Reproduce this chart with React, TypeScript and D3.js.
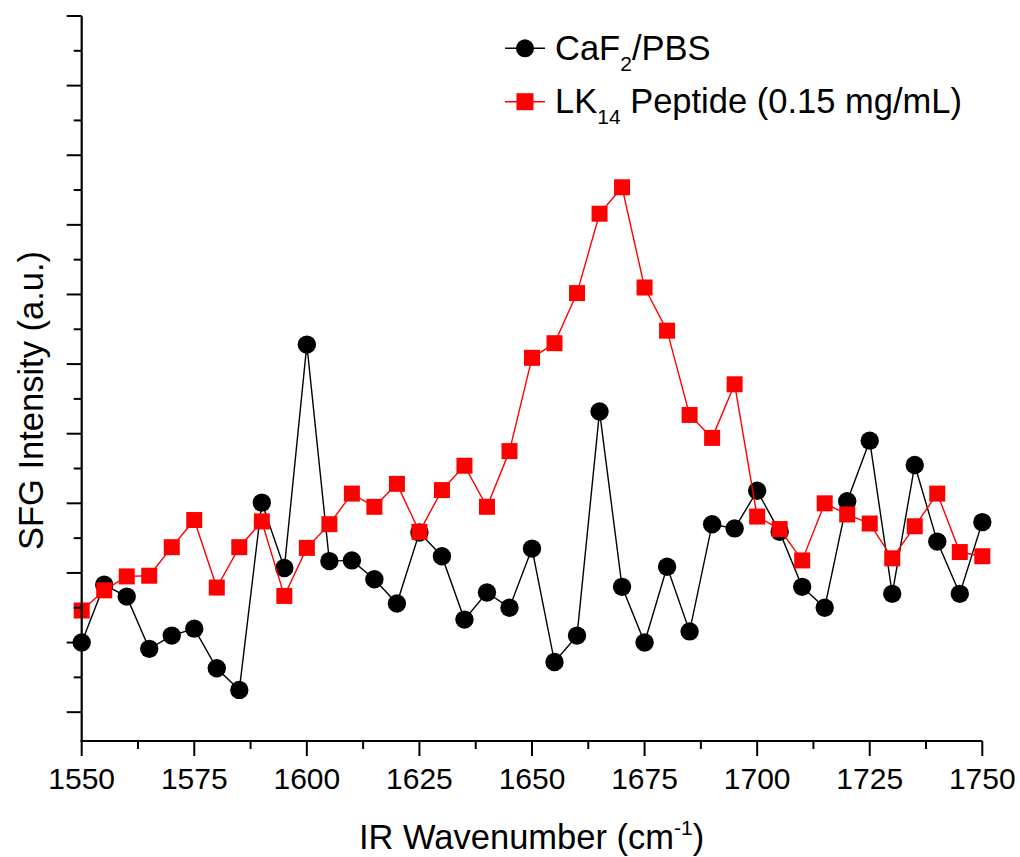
import React from 'react';
import * as d3 from 'd3';

const wavenumbers = [
  1550, 1555, 1560, 1565, 1570, 1575, 1580, 1585, 1590, 1595,
  1600, 1605, 1610, 1615, 1620, 1625, 1630, 1635, 1640, 1645,
  1650, 1655, 1660, 1665, 1670, 1675, 1680, 1685, 1690, 1695,
  1700, 1705, 1710, 1715, 1720, 1725, 1730, 1735, 1740, 1745, 1750,
];

const caf2PBS = [
  1.0, 1.83, 1.66, 0.91, 1.1, 1.2, 0.63, 0.32, 3.01, 2.07,
  5.28, 2.17, 2.18, 1.91, 1.56, 2.58, 2.24, 1.33, 1.72, 1.5,
  2.35, 0.72, 1.1, 4.32, 1.8, 1.0, 2.09, 1.16, 2.7, 2.64,
  3.18, 2.59, 1.8, 1.5, 3.03, 3.9, 1.7, 3.55, 2.45, 1.7, 2.73,
];

const lk14Peptide = [
  1.46, 1.75, 1.95, 1.96, 2.37, 2.76, 1.79, 2.37, 2.74, 1.67,
  2.36, 2.7, 3.14, 2.95, 3.28, 2.59, 3.19, 3.54, 2.95, 3.75,
  5.09, 5.3, 6.02, 7.16, 7.54, 6.1, 5.48, 4.27, 3.94, 4.71,
  2.81, 2.63, 2.18, 3.0, 2.84, 2.71, 2.21, 2.67, 3.14, 2.3, 2.24,
];

const xMajorTicks = [1550, 1575, 1600, 1625, 1650, 1675, 1700, 1725, 1750];
const xMinorTicks = [1562.5, 1587.5, 1612.5, 1637.5, 1662.5, 1687.5, 1712.5, 1737.5];
const yMajorTicks = [0, 1, 2, 3, 4, 5, 6, 7, 8, 9, 10];
const yMinorTicks = [0.5, 1.5, 2.5, 3.5, 4.5, 5.5, 6.5, 7.5, 8.5, 9.5];

const W = 1020;
const H = 857;
const left = 81.7;
const right = 982.3;
const top = 16;
const bottom = 741;

const FONT = "Arial, 'Liberation Sans', Helvetica, sans-serif";

export default function App() {
  const x = d3.scaleLinear().domain([1550, 1750]).range([left, right]);
  const y = d3.scaleLinear().domain([-0.414, 10]).range([bottom, top]);

  const line = d3
    .line<number>()
    .x((_, i) => x(wavenumbers[i]))
    .y((d) => y(d));

  const blackPath = line(caf2PBS) || '';
  const redPath = line(lk14Peptide) || '';

  const sq = 16;

  return (
    <svg
      width={W}
      height={H}
      viewBox={`0 0 ${W} ${H}`}
      style={{ position: 'absolute', left: 0, top: 0, background: '#fff' }}
      fontFamily={FONT}
    >
      <rect x={0} y={0} width={W} height={H} fill="#fff" />

      {/* data: black series */}
      <path d={blackPath} fill="none" stroke="#000" strokeWidth={1.4} />
      {caf2PBS.map((v, i) => (
        <circle key={`b${i}`} cx={x(wavenumbers[i])} cy={y(v)} r={9.2} fill="#000" />
      ))}

      {/* data: red series */}
      <path d={redPath} fill="none" stroke="#ff0000" strokeWidth={1.4} />
      {lk14Peptide.map((v, i) => (
        <rect
          key={`r${i}`}
          x={x(wavenumbers[i]) - sq / 2}
          y={y(v) - sq / 2}
          width={sq}
          height={sq}
          fill="#ff0000"
        />
      ))}

      {/* axes */}
      <line x1={left} x2={left} y1={top} y2={bottom + 1} stroke="#000" strokeWidth={2.2} />
      <line x1={left - 1} x2={right} y1={bottom} y2={bottom} stroke="#000" strokeWidth={2.2} />

      {xMajorTicks.map((t) => (
        <g key={`xm${t}`}>
          <line x1={x(t)} x2={x(t)} y1={bottom} y2={bottom + 15} stroke="#000" strokeWidth={2} />
          <text x={x(t)} y={789} fontSize={30} textAnchor="middle" fill="#000">
            {t}
          </text>
        </g>
      ))}
      {xMinorTicks.map((t) => (
        <line key={`xn${t}`} x1={x(t)} x2={x(t)} y1={bottom} y2={bottom + 8} stroke="#000" strokeWidth={2} />
      ))}
      {yMajorTicks.map((t) => (
        <line key={`ym${t}`} x1={left - 15} x2={left} y1={y(t)} y2={y(t)} stroke="#000" strokeWidth={2} />
      ))}
      {yMinorTicks.map((t) => (
        <line key={`yn${t}`} x1={left - 8} x2={left} y1={y(t)} y2={y(t)} stroke="#000" strokeWidth={2} />
      ))}

      {/* axis titles */}
      <text x={359} y={849} fontSize={34.5} fill="#000">
        IR Wavenumber (cm
        <tspan fontSize={21} dy={-14}>-1</tspan>
        <tspan dy={14}>)</tspan>
      </text>
      <text
        transform={`translate(43, 400.5) rotate(-90)`}
        fontSize={34.5}
        textAnchor="middle"
        fill="#000"
      >
        SFG Intensity (a.u.)
      </text>

      {/* legend */}
      <line x1={505} x2={545} y1={48.3} y2={48.3} stroke="#000" strokeWidth={1.4} />
      <circle cx={525} cy={48.3} r={9} fill="#000" />
      <text x={555} y={60} fontSize={34.5} fill="#000">
        CaF
        <tspan fontSize={21} dy={11}>2</tspan>
        <tspan dy={-11}>/PBS</tspan>
      </text>

      <line x1={505} x2={545} y1={101.7} y2={101.7} stroke="#ff0000" strokeWidth={1.4} />
      <rect x={525 - 8.5} y={101.7 - 8.5} width={17} height={17} fill="#ff0000" />
      <text x={555} y={113.3} fontSize={34.5} fill="#000">
        LK
        <tspan fontSize={21} dy={11}>14</tspan>
        <tspan dy={-11}> Peptide (0.15 mg/mL)</tspan>
      </text>
    </svg>
  );
}
